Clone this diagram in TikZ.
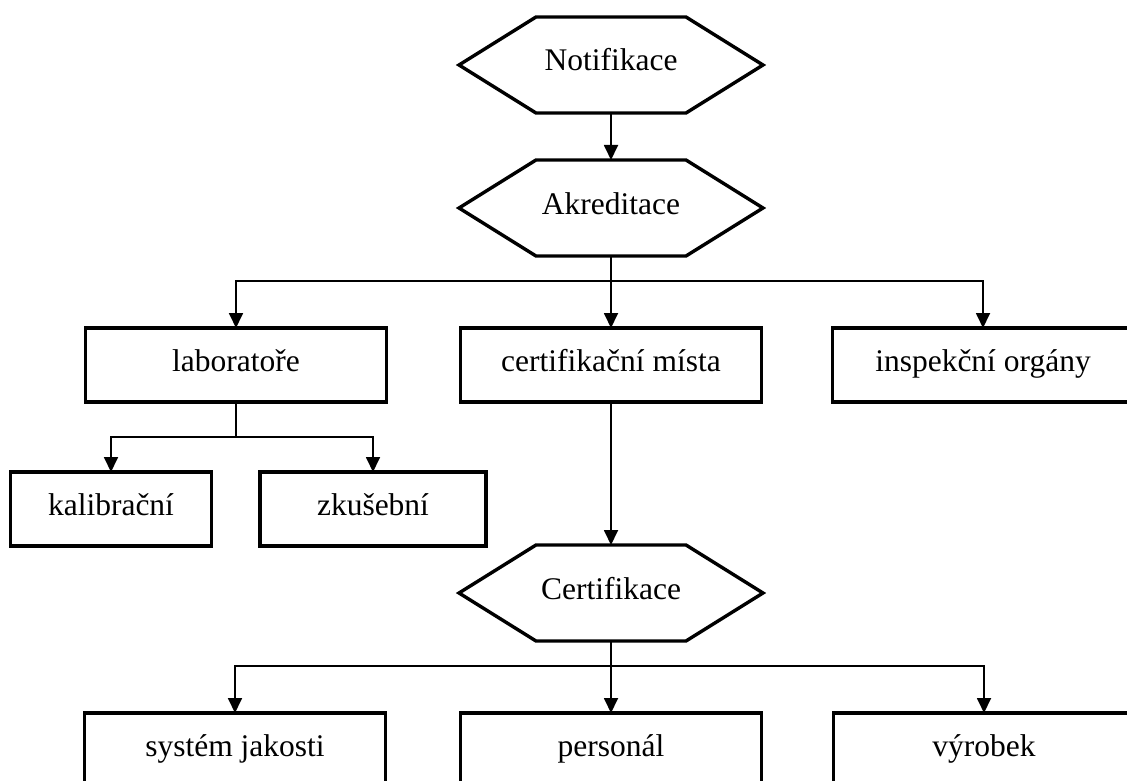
\documentclass[tikz,border=0pt]{standalone}
\usepackage{fontspec}
\setmainfont{Liberation Serif}
\usetikzlibrary{arrows.meta,positioning}

\begin{document}
\begin{tikzpicture}[
    x=1pt, y=1pt,
    node distance=72pt and 74pt,
    every node/.style={font=\fontsize{31.5}{36}\selectfont, outer sep=0pt, text height=21pt, text depth=9pt},
    block/.style={rectangle, draw, line width=3.4pt, minimum width=301pt, minimum height=74pt, inner sep=0pt},
    hexa/.style={rectangle, minimum width=150pt, minimum height=96pt, inner sep=0pt,
        append after command={\pgfextra{\draw[line width=3.4pt, line join=miter]
            (\tikzlastnode.north west) -- ([xshift=-77pt]\tikzlastnode.west)
            -- (\tikzlastnode.south west) -- (\tikzlastnode.south east)
            -- ([xshift=77pt]\tikzlastnode.east) -- (\tikzlastnode.north east) -- cycle;}}},
    arrow/.style={-{Triangle[length=15pt,width=14pt]}, line width=1.8pt},
    line/.style={line width=1.8pt},
]
    \clip (0,0) rectangle (1127,-781);

    \node[hexa] (notif) at (611,-65) {Notifikace};
    \node[hexa, below=47pt of notif] (akred) {Akreditace};
    \node[block, below=72pt of akred] (certm) {certifikační místa};
    \node[block, left=of certm] (lab) {laboratoře};
    \node[block, right=71pt of certm] (insp) {inspekční orgány};
    \node[block, minimum width=201pt, below=70pt of lab, xshift=-125pt] (kal) {kalibrační};
    \node[block, minimum width=226pt, below=70pt of lab, xshift=137pt] (zk) {zkušební};
    \node[hexa, below=143pt of certm] (certif) {Certifikace};
    \node[block, below=of certif] (pers) {personál};
    \node[block, left=75pt of pers] (syst) {systém jakosti};
    \node[block, right=72pt of pers] (vyr) {výrobek};

    \coordinate[below=25pt of akred] (split1);
    \coordinate[below=35pt of lab] (split2);
    \coordinate[below=25pt of certif] (split3);

    \draw[arrow] (notif.south) -- (akred.north);
    \draw[arrow] (akred.south) -- (certm.north);
    \draw[arrow] (split1) -| (lab.north);
    \draw[arrow] (split1) -| (insp.north);
    \draw[line] (lab.south) -- (split2);
    \draw[arrow] (split2) -| (kal.north);
    \draw[arrow] (split2) -| (zk.north);
    \draw[arrow] (certm.south) -- (certif.north);
    \draw[arrow] (certif.south) -- (pers.north);
    \draw[arrow] (split3) -| (syst.north);
    \draw[arrow] (split3) -| (vyr.north);
\end{tikzpicture}
\end{document}
